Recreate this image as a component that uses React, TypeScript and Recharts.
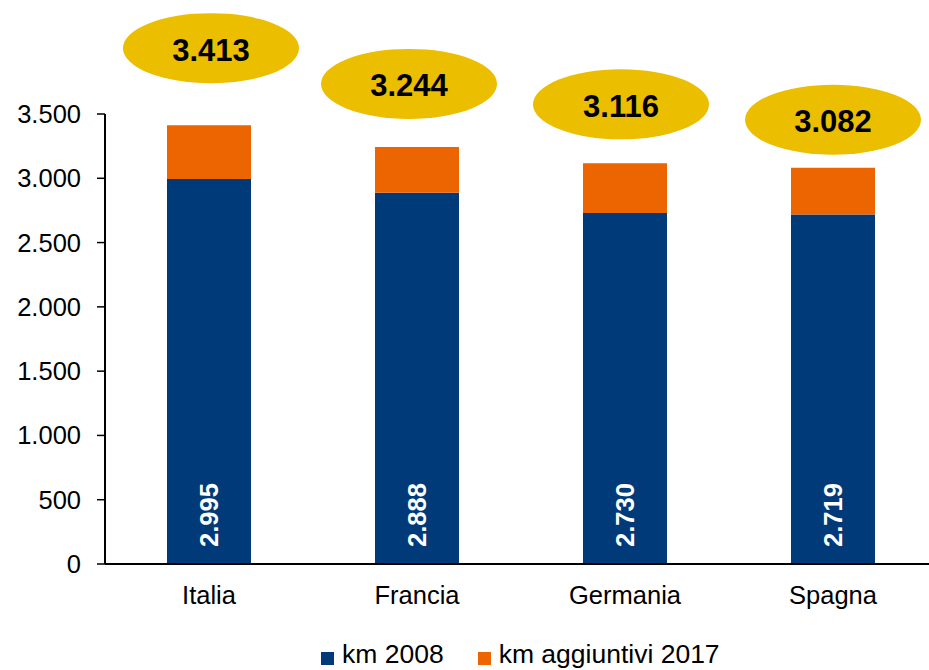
import { BarChart, Bar, XAxis, YAxis, Legend, LabelList } from "recharts";

const COUNTRIES = ["Italia", "Francia", "Germania", "Spagna"];
const KM_2008 = [2995, 2888, 2730, 2719];
const KM_ADDED_2017 = [418, 356, 386, 363];
const TOTALS = [3413, 3244, 3116, 3082];
const Y_TICKS = [0, 500, 1000, 1500, 2000, 2500, 3000, 3500];

const NAVY = "#003A78";
const ORANGE = "#EC6500";
const GOLD = "#EBBE00";
const FONT = "'Liberation Sans', Arial, sans-serif";

// per-bar nudge of the gold total bubbles (they sit unevenly in the source)
const BUBBLE_SHIFT = [
  { dx: 2, dy: -77 },
  { dx: -8, dy: -63 },
  { dx: -4, dy: -59 },
  { dx: 0, dy: -48 },
];

const fmt = (n: number) => String(n).replace(/\B(?=(\d{3})+(?!\d))/g, ".");

const data = COUNTRIES.map((name, i) => ({
  name,
  base: KM_2008[i],
  added: KM_ADDED_2017[i],
  total: TOTALS[i],
}));

function InnerLabel(props: any) {
  const { x, y, width, height, value } = props;
  const cx = x + width / 2;
  const cy = y + height - 49;
  return (
    <text
      x={cx}
      y={cy}
      transform={`rotate(-90 ${cx} ${cy})`}
      textAnchor="middle"
      dominantBaseline="central"
      fill="#ffffff"
      fontWeight="bold"
      fontSize={25.5}
      fontFamily={FONT}
    >
      {fmt(Number(value))}
    </text>
  );
}

function TotalBubble(props: any) {
  const { x, y, width, index } = props;
  const s = BUBBLE_SHIFT[index] || { dx: 0, dy: -60 };
  const cx = x + width / 2 + s.dx;
  const cy = y + s.dy;
  return (
    <g>
      <ellipse cx={cx} cy={cy} rx={88} ry={35} fill={GOLD} />
      <text
        x={cx}
        y={cy + 2}
        textAnchor="middle"
        dominantBaseline="central"
        fill="#000000"
        fontWeight="bold"
        fontSize={31}
        fontFamily={FONT}
      >
        {fmt(TOTALS[index])}
      </text>
    </g>
  );
}

function LegendBox() {
  const items = [
    { label: "km 2008", color: NAVY },
    { label: "km aggiuntivi 2017", color: ORANGE },
  ];
  return (
    <div style={{ display: "flex", fontFamily: FONT, fontSize: 26.5, color: "#000" }}>
      {items.map((it, i) => (
        <div key={i} style={{ display: "flex", alignItems: "flex-start", marginRight: 34 }}>
          <span
            style={{
              display: "inline-block",
              width: 13,
              height: 13,
              background: it.color,
              marginTop: 11,
              marginRight: 8,
            }}
          />
          <span style={{ lineHeight: "26px", whiteSpace: "nowrap" }}>{it.label}</span>
        </div>
      ))}
    </div>
  );
}

export default function App() {
  return (
    <div
      style={{
        position: "absolute",
        left: 0,
        top: 0,
        width: 929,
        height: 670,
        overflow: "hidden",
        background: "#fff",
      }}
    >
      <BarChart
        width={940}
        height={670}
        data={data}
        margin={{ top: 114, right: 3, left: 0, bottom: 0 }}
      >
        <XAxis
          dataKey="name"
          height={106}
          axisLine={{ stroke: "#000", strokeWidth: 2 }}
          tickLine={false}
          tickSize={0}
          tickMargin={22}
          tick={{ fontSize: 25.5, fill: "#000", fontFamily: FONT }}
        />
        <YAxis
          width={105}
          domain={[0, 3500]}
          ticks={Y_TICKS}
          interval={0}
          tickFormatter={(v) => fmt(Number(v))}
          axisLine={{ stroke: "#000", strokeWidth: 2 }}
          tickLine={{ stroke: "#000", strokeWidth: 1.5 }}
          tickSize={8}
          tickMargin={16}
          tick={{ fontSize: 25.5, fill: "#000", fontFamily: FONT }}
        />
        <Legend
          layout="horizontal"
          verticalAlign="middle"
          align="center"
          content={<LegendBox />}
          wrapperStyle={{ left: 321, top: 641, width: 600 }}
        />
        <Bar dataKey="base" name="km 2008" stackId="a" fill={NAVY} barSize={84} isAnimationActive={false}>
          <LabelList dataKey="base" content={<InnerLabel />} />
        </Bar>
        <Bar
          dataKey="added"
          name="km aggiuntivi 2017"
          stackId="a"
          fill={ORANGE}
          barSize={84}
          isAnimationActive={false}
        >
          <LabelList dataKey="total" content={<TotalBubble />} />
        </Bar>
      </BarChart>
    </div>
  );
}
